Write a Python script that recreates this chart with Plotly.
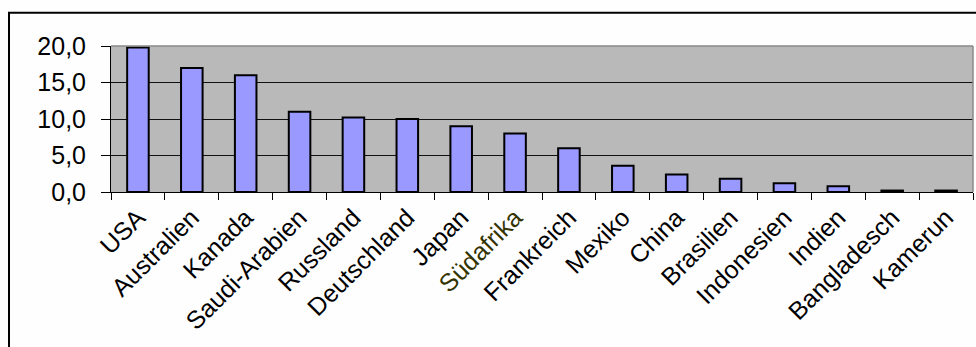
import plotly.graph_objects as go

countries = ["USA", "Australien", "Kanada", "Saudi-Arabien", "Russland", "Deutschland",
             "Japan", "Südafrika", "Frankreich", "Mexiko", "China", "Brasilien",
             "Indonesien", "Indien", "Bangladesch", "Kamerun"]
values = [19.8, 17.0, 16.0, 11.0, 10.2, 10.0, 9.0, 8.0, 6.0, 3.6, 2.4, 1.8, 1.2, 0.8, 0.2, 0.2]
highlight = "Südafrika"
tick_text = [f'<span style="color:#333300">{c}</span>' if c == highlight else c for c in countries]
y_ticks = [0, 5, 10, 15, 20]

W, H = 976, 347
ml, mr, mt, mb = 111, 3, 46, 155
pw, ph = W - ml - mr, H - mt - mb

fig = go.Figure()
fig.add_trace(go.Bar(
    x=countries, y=values,
    marker=dict(color="#9999FF", line=dict(color="black", width=2)),
))

fig.update_layout(
    width=W, height=H,
    margin=dict(l=ml, r=mr, t=mt, b=mb),
    paper_bgcolor="#FEFEFE",
    plot_bgcolor="#B9B9B9",
    bargap=0.6,
    showlegend=False,
    separators=",.",
    font=dict(family="Liberation Sans, Arial, sans-serif", size=24, color="black"),
    xaxis=dict(
        tickmode="array", tickvals=countries, ticktext=tick_text,
        tickangle=-45, tickson="boundaries", ticks="outside", ticklen=7,
        tickcolor="black", showline=True, linecolor="black", linewidth=1,
        showgrid=False, tickfont=dict(size=25),
    ),
    yaxis=dict(
        range=[0, 20], tickvals=y_ticks, tickformat=".1f",
        ticks="outside", ticklen=9, tickcolor="black",
        showline=True, linecolor="black", linewidth=1,
        showgrid=True, gridcolor="#111111", gridwidth=1,
        zeroline=False, ticklabelstandoff=10, tickfont=dict(size=25),
    ),
    shapes=[
        dict(type="line", xref="paper", yref="paper", x0=0, x1=1, y0=1, y1=1,
             line=dict(color="#8A8A8A", width=1.5), layer="above"),
        dict(type="line", xref="paper", yref="paper", x0=1, x1=1, y0=0, y1=1,
             line=dict(color="#8A8A8A", width=1.5), layer="above"),
        dict(type="rect", xref="paper", yref="paper",
             x0=(9 - ml) / pw, x1=(W + 10 - ml) / pw,
             y0=-2.0, y1=(H - mb - 12.7) / ph,
             line=dict(color="black", width=2), layer="below"),
    ],
)

fig.write_html("out.html")
